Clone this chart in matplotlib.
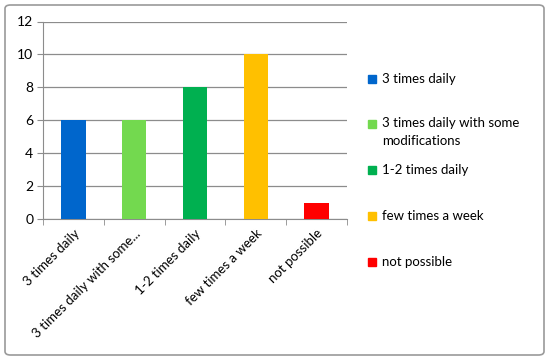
import numpy as np
import matplotlib.pyplot as plt
from matplotlib.patches import FancyBboxPatch

categories = ["3 times daily", "3 times daily with some modifications",
              "1-2 times daily", "few times a week", "not possible"]
tick_labels = ["3 times daily", "3 times daily with some...",
               "1-2 times daily", "few times a week", "not possible"]
legend_labels = ["3 times daily", "3 times daily with some\nmodifications",
                 "1-2 times daily", "few times a week", "not possible"]
values = [6, 6, 8, 10, 1]
colors = ["#0066cc", "#73d94f", "#00b050", "#ffc000", "#ff0000"]

plt.rcParams['font.family'] = ['Lato', 'DejaVu Sans']
fig = plt.figure(figsize=(5.5, 3.63), dpi=100)
W, H = 550, 363
ax = fig.add_axes([43 / W, 1 - 219 / H, (347 - 43) / W, (219 - 21.5) / H])

x = np.arange(len(values))
ax.bar(x, values, width=0.4, color=colors, zorder=3)
ax.set_xlim(-0.5, len(values) - 0.5)
ax.set_ylim(0, 12)
ax.set_yticks(range(0, 13, 2))
ax.yaxis.grid(True, color="#8c8c8c", linewidth=0.9, zorder=0)
ax.tick_params(axis='y', length=4, color="#8c8c8c", labelsize=10, pad=3)
ax.set_xticks(x)
ax.set_xticklabels(tick_labels, rotation=45, ha='right', rotation_mode='anchor', fontsize=9.5)
ax.tick_params(axis='x', length=0, pad=6)
ax.set_xticks(np.arange(-0.5, len(values)), minor=True)
ax.tick_params(axis='x', which='minor', length=4, color="#8c8c8c")
for s in ['top', 'right']:
    ax.spines[s].set_visible(False)
for s in ['left', 'bottom']:
    ax.spines[s].set_color("#8c8c8c")

# legend
ys = [79, 124, 170, 216, 262]
for lab, c, yy in zip(legend_labels, colors, ys):
    fig.patches.append(plt.Rectangle((368 / W, 1 - (yy + 4) / H), 8 / W, 8 / H,
                                     transform=fig.transFigure, color=c, figure=fig))
    fig.text(382 / W, 1 - (yy - 7 if '\n' in lab else yy) / H, lab, fontsize=9.5,
             va='top' if '\n' in lab else 'center', linespacing=1.6)

# outer frame
frame = FancyBboxPatch((5 / W, 8 / H), 539 / W, 350 / H,
                       boxstyle="round,pad=0,rounding_size=0.01",
                       transform=fig.transFigure, fill=False,
                       edgecolor="#9a9a9a", linewidth=1.2)
fig.patches.append(frame)

fig.savefig("out.png", dpi=100)
